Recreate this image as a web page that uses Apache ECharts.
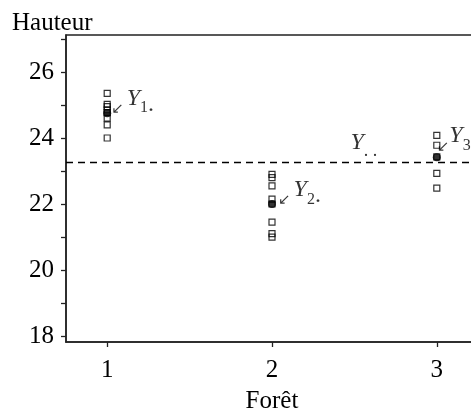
<!DOCTYPE html>
<html>
<head>
<meta charset="utf-8">
<script src="https://cdn.jsdelivr.net/npm/echarts@6/dist/echarts.min.js"></script>
<style>html,body{margin:0;padding:0;background:#fff}#c{width:471px;height:416px}</style>
</head>
<body>
<div id="c"></div>
<script>
const forests = [1, 2, 3];
const forest1 = [25.35, 25.02, 24.95, 24.85, 24.77, 24.6, 24.4, 24.0];
const forest2 = [22.9, 22.8, 22.55, 22.15, 22.0, 21.45, 21.1, 21.0];
const forest3 = [24.08, 23.78, 23.43, 22.93, 22.48];
const forestMeans = [24.75, 22.0, 23.42];
const grandMean = 23.28;
const grandMeanLabelX = 2.47;
const yTicks = [18, 19, 20, 21, 22, 23, 24, 25, 26, 27];
const yLabels = [18, 20, 22, 24, 26];
const xTicks = [1, 2, 3];
const meanSubscripts = ['1', '2', '3'];

const SERIF = 'Liberation Serif';
const groups = [forest1, forest2, forest3];
const squares = [];
groups.forEach((g, i) => g.forEach(v => squares.push([forests[i], v])));

function makeRich(arrowPad) {
  return {
    a: { fontFamily: 'DejaVu Sans', fontSize: 15, lineHeight: 8, verticalAlign: 'bottom', padding: [0, arrowPad, 0, 0], color: '#000' },
    y: { fontFamily: SERIF, fontStyle: 'italic', fontSize: 24, lineHeight: 30, verticalAlign: 'top', color: '#000' },
    s: { fontFamily: SERIF, fontSize: 16, lineHeight: 12, verticalAlign: 'bottom', color: '#000' },
    d: { fontFamily: SERIF, fontSize: 24, lineHeight: 17, verticalAlign: 'bottom', color: '#000' },
    dd: { fontFamily: SERIF, fontSize: 18, lineHeight: 17, verticalAlign: 'bottom', color: '#000' }
  };
}
const labelOffsets = [[0, -12], [2, -11], [-4, -18]];
const arrowPads = [3, 3, 0];
const meanData = forestMeans.map((m, i) => ({
  value: [forests[i], m],
  label: { offset: labelOffsets[i], rich: makeRich(arrowPads[i]), formatter: '{a|\u2199}{y|Y}{s|' + meanSubscripts[i] + '}{d|.}' }
}));

const chart = echarts.init(document.getElementById('c'), null, { renderer: 'canvas' });
chart.setOption({
  animation: false,
  backgroundColor: '#fff',
  title: {
    text: 'Hauteur', left: 7, top: 6,
    textStyle: { fontFamily: SERIF, fontSize: 25, fontWeight: 'normal', color: '#000' }
  },
  grid: { left: 66, top: 35, width: 412, bottom: 74, show: true, borderColor: '#222', borderWidth: 1.5, backgroundColor: 'transparent', outerBoundsMode: 'none', containLabel: false },
  xAxis: {
    type: 'value', min: 0.75, max: 3.25,
    name: 'Forêt', nameLocation: 'middle', nameGap: 47,
    nameTextStyle: { fontFamily: SERIF, fontSize: 25, color: '#000' },
    axisLine: { show: true, lineStyle: { color: '#222', width: 1.5 } },
    axisTick: { show: true, length: 5, inside: false, customValues: xTicks, lineStyle: { color: '#222', width: 1.3 } },
    axisLabel: { customValues: xTicks, margin: 16, fontFamily: SERIF, fontSize: 25, color: '#000' },
    splitLine: { show: false }
  },
  yAxis: {
    type: 'value', min: 17.82, max: 27.12,
    axisLine: { show: true, lineStyle: { color: '#222', width: 1.5 } },
    axisTick: { show: true, length: 5, inside: false, customValues: yTicks, lineStyle: { color: '#222', width: 1.3 } },
    axisLabel: { customValues: yLabels, margin: 12, fontFamily: SERIF, fontSize: 25, color: '#000' },
    splitLine: { show: false }
  },
  series: [
    {
      type: 'scatter', data: squares, symbol: 'rect', symbolSize: 6, z: 2,
      itemStyle: { color: 'rgba(0,0,0,0)', borderColor: '#000', borderWidth: 1.2 },
      markLine: {
        silent: true, symbol: ['none', 'none'], label: { show: false },
        lineStyle: { type: [7, 5], color: '#000', width: 1.3 },
        data: [{ yAxis: grandMean }]
      }
    },
    {
      type: 'scatter', data: meanData, symbol: 'circle', symbolSize: 8, z: 5,
      itemStyle: { color: '#000' },
      label: { show: true, position: 'right', distance: 0, rich: makeRich(3) }
    },
    {
      type: 'scatter', data: [[grandMeanLabelX, grandMean]], symbolSize: 0, z: 5,
      label: { show: true, position: 'right', distance: 0, offset: [1, -16], formatter: '{y|Y}{dd|. .}', rich: makeRich(3) }
    }
  ]
});
</script>
</body>
</html>
